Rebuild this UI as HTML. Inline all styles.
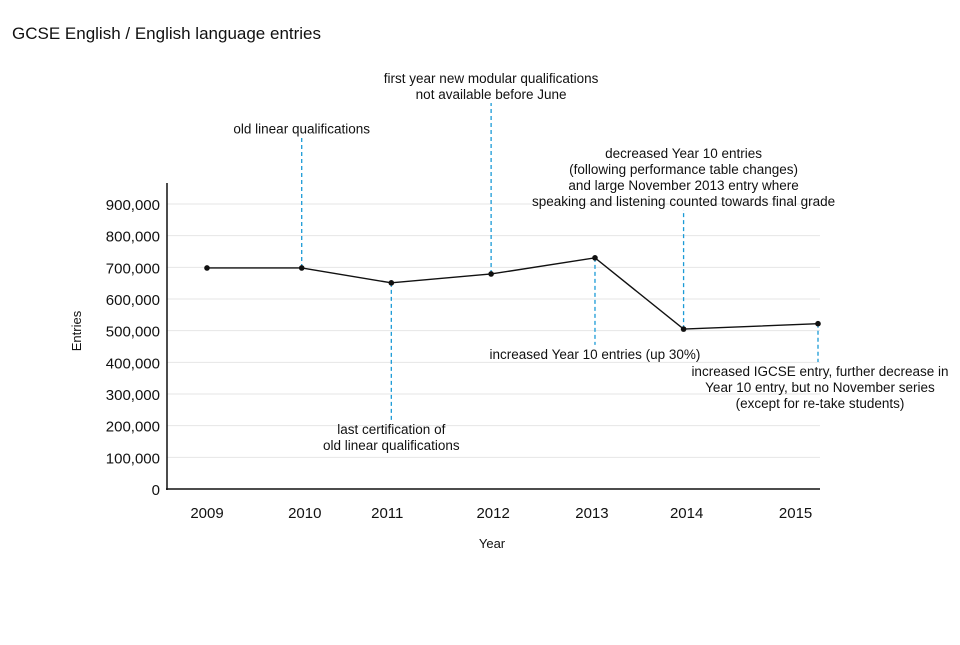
<!DOCTYPE html>
<html><head><meta charset="utf-8"><style>
body{margin:0;background:#fff;font-family:"Liberation Sans",sans-serif}
svg text{font-family:"Liberation Sans",sans-serif;fill:#111}
</style></head><body>
<svg id="chart" width="960" height="640">
<text x="12" y="39" font-size="17">GCSE English / English language entries</text>
<g id="grid"></g><g id="axes"></g><g id="annots"></g><g id="series"></g>
<text x="492" y="548" font-size="13" text-anchor="middle">Year</text>
<text transform="translate(81,331) rotate(-90)" font-size="13" text-anchor="middle">Entries</text>
</svg>
<script>
const yTicks=[0,100000,200000,300000,400000,500000,600000,700000,800000,900000];
const yTickLabels=["0","100,000","200,000","300,000","400,000","500,000","600,000","700,000","800,000","900,000"];
const xTickLabels=["2009","2010","2011","2012","2013","2014","2015"];
const xTickPos=[2009.0,2009.96,2010.77,2011.81,2012.78,2013.71,2014.78];
const pointDates=[2009.0,2009.93,2010.81,2011.79,2012.81,2013.68,2015.0];
const entries=[698000,698000,651000,679000,730000,505000,522000];
const annotDates=[2009.93,2010.81,2011.79,2012.81,2013.68,2015.0];
const annotEnds=[1110000,218000,1219000,455000,881000,401000];
const annotTexts=[["old linear qualifications"],["last certification of","old linear qualifications"],["first year new modular qualifications","not available before June"],["increased Year 10 entries (up 30%)"],["decreased Year 10 entries","(following performance table changes)","and large November 2013 entry where","speaking and listening counted towards final grade"],["increased IGCSE entry, further decrease in","Year 10 entry, but no November series","(except for re-take students)"]];
const NS="http://www.w3.org/2000/svg";
const x=d=>207+(d-2009)*(818-207)/6;
const y=v=>489-v*(489-204)/900000;
function el(p,t,a){const e=document.createElementNS(NS,t);for(const k in a)e.setAttribute(k,a[k]);p.appendChild(e);return e;}
const grid=document.getElementById('grid'),axes=document.getElementById('axes'),an=document.getElementById('annots'),se=document.getElementById('series');
yTicks.forEach((v,i)=>{
 if(v>0){const g=el(grid,'line',{x1:167,x2:820,y1:y(v),y2:y(v),stroke:'#e6e6e6','stroke-width':1});
 
 }
 const t=el(axes,'text',{x:160,y:y(v)+6,'font-size':15,'text-anchor':'end'});t.textContent=yTickLabels[i];
 
 
});
xTickLabels.forEach((l,i)=>{const t=el(axes,'text',{x:x(xTickPos[i]),y:518,'font-size':15,'text-anchor':'middle'});t.textContent=l;
 
 });
const ya=el(axes,'line',{x1:167,x2:167,y1:183,y2:490,stroke:'#111','stroke-width':1.5});


const xa=el(axes,'line',{x1:166,x2:820,y1:489,y2:489,stroke:'#111','stroke-width':1.5});


annotDates.forEach((d,i)=>{
 const idx=pointDates.indexOf(d)>=0?pointDates.indexOf(d):i+1;
 const py=y(entries[idx]),ey=y(annotEnds[i]);
 const ln=el(an,'line',{x1:x(d),x2:x(d),y1:py,y2:ey,stroke:'#1a9ad6','stroke-width':1.3,'stroke-dasharray':'4,3'});
 
 
 const lines=annotTexts[i],up=ey<py;
 const cx=i==5?x(d)+2:x(d);
 lines.forEach((s,j)=>{
  const ty=up?ey-4-(lines.length-1-j)*16:ey+14+j*16;
  const t=el(an,'text',{x:cx,y:ty,'font-size':13.5,'text-anchor':'middle'});t.textContent=s;
  
  
 });
});
const pl=el(se,'polyline',{points:pointDates.map((d,i)=>x(d)+','+y(entries[i])).join(' '),fill:'none',stroke:'#111','stroke-width':1.4});


pointDates.forEach((d,i)=>{const c=el(se,'circle',{cx:x(d),cy:y(entries[i]),r:2.8,fill:'#111'});
 
 });
</script>
</body></html>
